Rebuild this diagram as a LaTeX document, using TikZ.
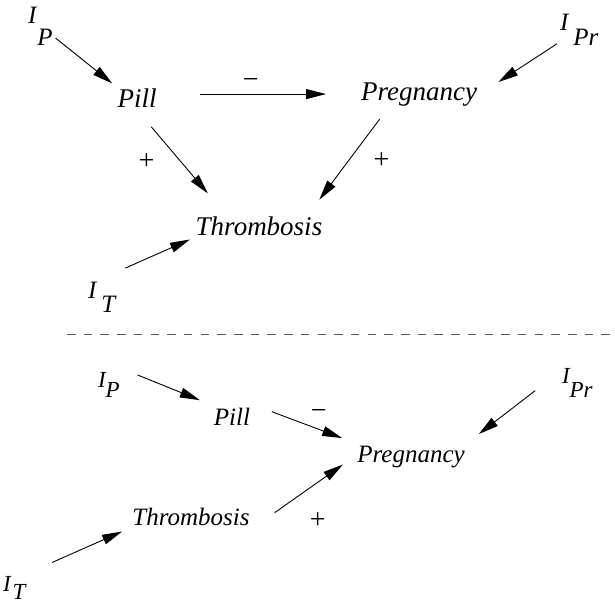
\documentclass[tikz,border=0pt]{standalone}
\usepackage{fontspec}
\setmainfont{Liberation Serif}[ItalicFont={Liberation Serif Italic}]
\usetikzlibrary{arrows.meta, positioning}
\definecolor{sepgray}{gray}{0.35}
% I with a lowered index: index, kern, drop
\newcommand{\inlab}[3]{I\kern#2\raisebox{-#3}{#1}}

\begin{document}
\begin{tikzpicture}[x=1pt, y=-1pt,
  lab/.style={inner sep=3pt, outer sep=0pt, anchor=base, font=\fontsize{#1}{#1}\selectfont\itshape},
  inp/.style={inner sep=3pt, outer sep=0pt, anchor=base west, font=\fontsize{#1}{#1}\selectfont\itshape},
  sgn/.style={inner sep=0pt, font=\fontsize{28}{28}\selectfont},
  arr/.style={-{Triangle[length=20pt,width=10pt]}, line width=0.9pt}]
\useasboundingbox (0,0) rectangle (615,605);

% upper graph
\node[lab=27] (pillT) at (137,107) {Pill};
\node[lab=27] (pregT) at (419,100) {Pregnancy};
\node[lab=27] (thrT) at (259,235) {Thrombosis};
\node[inp=25] (ipT) at (25,23) {\inlab{P}{1pt}{22pt}};
\node[inp=25] (iprT) at (557,30) {\inlab{Pr}{5pt}{15pt}};
\node[inp=25] (itT) at (85,298) {\inlab{T}{5pt}{14pt}};

\draw[arr, shorten >=3pt] (ipT) -- (pillT.north west);
\draw[arr, shorten <=40pt, shorten >=32pt] (pillT.east |- pregT) -- (pregT.west) node[sgn, pos=.46, above=5pt]{−};
\draw[arr, shorten >=22pt] (iprT) -- (pregT.east);
\draw[arr, shorten <=22pt, shorten >=26pt] (pillT.south) -- (thrT.160) node[sgn, midway, left=26pt]{+};
\draw[arr, shorten <=13pt, shorten >=17pt] (pregT.205) -- (thrT.14) node[sgn, midway, right=25pt]{+};
\draw[arr, shorten <=26pt, shorten >=3pt] (itT.north) -- (thrT.south west);

% separator
\draw[sepgray, dash pattern=on 8.5pt off 8.2pt, line width=0.9pt] (67,334) -- (615,334);

% lower graph
\node[lab=25] (pillB) at (232,425) {Pill};
\node[lab=25] (pregB) at (411,462) {Pregnancy};
\node[lab=25] (thrB) at (191,525) {Thrombosis};
\node[inp=23] (ipB) at (95,387) {\inlab{P}{0pt}{10pt}};
\node[inp=23] (iprB) at (559,383) {\inlab{Pr}{0pt}{14pt}};
\node[inp=23] (itB) at (0,591) {\inlab{T}{2pt}{8pt}};

\draw[arr, shorten <=16pt, shorten >=12pt] (ipB.north east) -- (pillB.north west);
\draw[arr, shorten <=20pt, shorten >=13pt] (pillB.north east) -- (pregB.north west) node[sgn, pos=.65, above=9pt]{−};
\draw[arr, shorten <=30pt, shorten >=14pt] (iprB.151) -- (pregB.north east);
\draw[arr, shorten <=27pt, shorten >=14pt] (thrB.south east) -- (pregB.west) node[sgn, midway, below right=20pt and 6pt]{+};
\draw[arr, shorten <=26pt, shorten >=8pt] (itB.north east) -- (thrB.south west);
\end{tikzpicture}
\end{document}
